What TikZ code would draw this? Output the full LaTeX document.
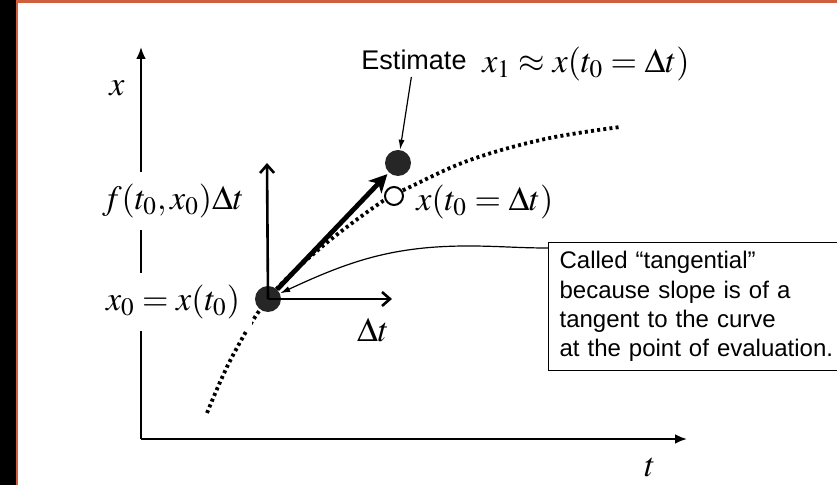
\documentclass[tikz,border=0pt]{standalone}
\usepackage{mathptmx}
\usepackage{fontspec}
\setmainfont{Liberation Serif}
\setsansfont{Liberation Sans}
\usetikzlibrary{arrows.meta}
\definecolor{frameorange}{RGB}{206,96,62}

\begin{document}
\begin{tikzpicture}[
  x=0.5pt, y=-0.5pt,
  axis/.style={line width=1.3pt, -{Latex[length=6pt,width=5pt]}},
  incr/.style={line width=1.3pt, -{Straight Barb[length=4pt,width=7pt]}},
  tangent/.style={line width=2.4pt, -{Stealth[length=9pt,width=9pt,inset=2.5pt]}},
  pointer/.style={line width=0.6pt, -{Latex[length=5pt,width=3pt]}},
  curve/.style={line width=1.9pt, dash pattern=on 1.5pt off 1.6pt},
  dot/.style={circle, fill=black!85, inner sep=0pt, minimum size=13pt},
  eqn/.style={inner sep=1pt, font=\fontsize{17}{20}\selectfont},
  lbl/.style={fill=white, inner sep=6pt, font=\fontsize{17}{20}\selectfont},
  callout/.style={draw, line width=0.6pt, align=left, text width=140pt, inner xsep=5.5pt,
    minimum height=64pt, font=\sffamily\fontsize{12}{14.7}\selectfont}
]
\useasboundingbox (0,0) rectangle (837,485);
\fill[black] (0,0) rectangle (16,485);
\fill[frameorange] (16,0) rectangle (18,485);
\fill[frameorange] (16,0) rectangle (837,3);

\coordinate (origin) at (141,439);
\coordinate (xend) at (141,47);
\coordinate (tend) at (687,439);
\draw[axis] (origin) -- (xend);
\draw[axis] (origin) -- (tend);
\node[eqn] (xlabel) at (117,88) {$x$};
\node[eqn] (tlabel) at (650,467) {$t$};

\draw[curve] plot[smooth, tension=0.6] coordinates {(207,413) (232,357) (268,299) (318,250) (380,203) (410,187) (470,160) (545,139) (620,127)};

\node[dot] (xzero) at (268,299) {};
\node[dot] (xone) at (398,163) {};
\node[circle, draw, fill=white, line width=1pt, inner sep=0pt, minimum size=9pt] (exact) at (394,196) {};

\coordinate (rise) at (267,163);
\coordinate (run) at (392,299);
\draw[incr] (xzero.center) -- (rise);
\draw[incr] (xzero.center) -- (run);
\draw[tangent, shorten >=1pt] (xzero) -- (xone);

\node[lbl] (rise label) at (173,201) {$f(t_0,x_0)\Delta t$};
\node[lbl] (xzero label) at (173,302) {$x_0 = x(t_0)$};
\node[eqn] (run label) at (373,330) {$\Delta t$};
\node[eqn, anchor=west] (exact label) at (414,202) {$x(t_0=\Delta t)$};

\node[font=\sffamily\fontsize{13.5}{16}\selectfont] (est) at (414,60) {Estimate};
\node[eqn, anchor=west] (est eq) at (480,64) {$x_1 \approx x(t_0=\Delta t)$};
\draw[pointer] (est) -- (xone);

\node[callout, anchor=north west] (note) at (548,242) {Called “tangential”\\because slope is of a\\tangent to the curve\\at the point of evaluation.};
\coordinate (bend) at (468,246);
\draw[pointer] ([yshift=-3pt]note.north west) to[out=180,in=0] (bend) to[out=180,in=25] (xzero);
\end{tikzpicture}
\end{document}
